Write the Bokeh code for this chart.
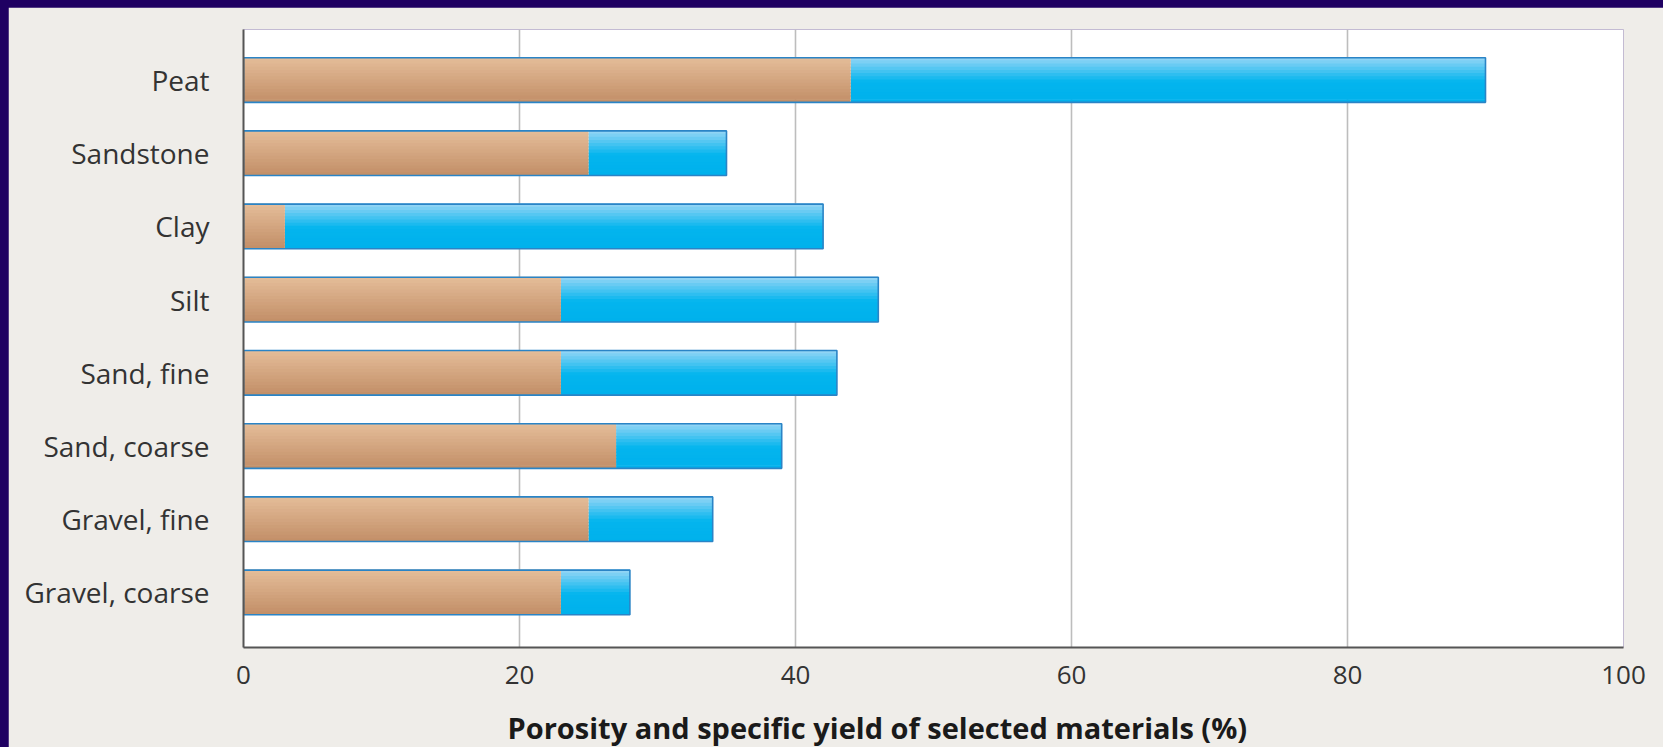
import numpy as np
from bokeh.plotting import figure
from bokeh.models import Range1d, FixedTicker, Title, ColumnDataSource
from bokeh.embed import file_html
from bokeh.resources import INLINE

# ---- data ----
categories = ["Gravel, coarse", "Gravel, fine", "Sand, coarse", "Sand, fine",
              "Silt", "Clay", "Sandstone", "Peat"]
specific_yield = [23, 25, 27, 23, 23, 3, 25, 44]   # brown segment
porosity = [28, 34, 39, 43, 46, 42, 35, 90]        # full bar length
x_ticks = [0, 20, 40, 60, 80, 100]
x_title = "Porosity and specific yield of selected materials (%)"

# ---- styles ----
BG = "#efede9"
BORDER = "#1f0062"
OUTLINE = "#2a84c6"
BAR_H = 0.61
FONT = "Open Sans"
PAD_L, PAD_T = 8, 7

p = figure(frame_width=1380, frame_height=618, output_backend="svg",
           toolbar_location=None,
           x_range=Range1d(0, 100), y_range=Range1d(-0.752, 7.69),
           min_border_left=243 - PAD_L, min_border_right=1663 - 1623,
           min_border_top=29 - PAD_T, min_border_bottom=0)
p.background_fill_color = "white"
p.border_fill_color = BG
p.outline_line_color = None

ypos = list(range(len(categories)))


def lerp(c1, c2, t):
    a = np.array([int(c1[i:i + 2], 16) for i in (1, 3, 5)], float)
    b = np.array([int(c2[i:i + 2], 16) for i in (1, 3, 5)], float)
    c = a + (b - a) * t
    return "#%02x%02x%02x" % tuple(int(round(v)) for v in c)


N = 14
brown_top, brown_bot = "#e4bc98", "#c39069"
blue_top, blue_mid, blue_bot = "#90d4f5", "#04b5ee", "#00b1ec"

for k in range(N):
    t = k / (N - 1)
    off = BAR_H / 2 - (k + 0.5) * BAR_H / N
    hh = BAR_H / N * 1.35 if k < N - 1 else BAR_H / N
    bc = lerp(brown_top, brown_bot, t)
    if t < 0.55:
        lc = lerp(blue_top, blue_mid, t / 0.55)
    else:
        lc = lerp(blue_mid, blue_bot, (t - 0.55) / 0.45)
    src = ColumnDataSource(dict(y=[v + off for v in ypos], sy=specific_yield,
                                por=porosity, z=[0] * len(ypos)))
    p.hbar(y="y", left="sy", right="por", height=hh, source=src,
           fill_color=lc, line_color=None)
    p.hbar(y="y", left="z", right="sy", height=hh, source=src,
           fill_color=bc, line_color=None)

osrc = ColumnDataSource(dict(y=ypos, sy=specific_yield, por=porosity,
                             z=[0] * len(ypos)))
p.hbar(y="y", left="z", right="por", height=BAR_H, source=osrc,
       fill_color=None, line_color=OUTLINE, line_width=1.6)

p.xaxis.ticker = FixedTicker(ticks=x_ticks)
p.yaxis.ticker = FixedTicker(ticks=ypos)
p.yaxis.major_label_overrides = {i: c for i, c in zip(ypos, categories)}
for ax in (p.xaxis, p.yaxis):
    ax.major_tick_line_color = None
    ax.minor_tick_line_color = None
    ax.axis_line_color = "#555555"
    ax.axis_line_width = 2
    ax.major_label_text_font = FONT
    ax.major_label_text_color = "#333333"
p.xaxis.major_label_text_font_size = "26px"
p.yaxis.major_label_text_font_size = "28px"
p.yaxis.major_label_standoff = 28
p.xaxis.major_label_standoff = 12

p.ygrid.grid_line_color = None
p.xgrid.ticker = FixedTicker(ticks=x_ticks[1:])
p.xgrid.grid_line_color = "#bdbdbd"
p.xgrid.grid_line_width = 1.6

p.add_layout(Title(text=x_title, align="left", offset=264, standoff=38,
                   text_font=FONT, text_font_style="bold",
                   text_font_size="29px", text_color="#1a1a1a"), "below")

html = file_html(p, INLINE)
html = html.replace("</head>",
    "<style>html,body{margin:0;padding:0;background:%s;overflow:hidden;"
    "width:1663px;height:747px;}"
    "body{padding-left:%dpx;padding-top:%dpx;box-sizing:border-box;}</style></head>"
    % (BORDER, PAD_L, PAD_T), 1)
open("out.html", "w").write(html)
